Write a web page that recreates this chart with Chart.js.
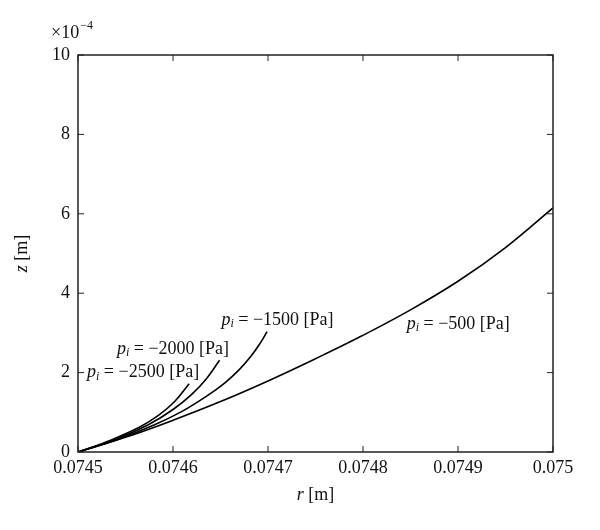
<!DOCTYPE html>
<html>
<head>
<meta charset="utf-8">
<script src="https://cdn.jsdelivr.net/npm/chart.js@4/dist/chart.umd.min.js"></script>
<style>
  html, body { margin: 0; padding: 0; background: #fff; }
  #wrap { width: 600px; height: 530px; }
</style>
</head>
<body>
<div id="wrap"><canvas id="myChart"></canvas></div>
<script>
// r values in metres, z values in units of 1e-4 m
const r500 = [0.0745, 0.07455, 0.0746, 0.07465, 0.0747, 0.07475, 0.0748, 0.07485, 0.0749, 0.07495, 0.075];
const z500 = [0, 0.37, 0.80, 1.27, 1.79, 2.35, 2.94, 3.58, 4.30, 5.15, 6.15];

const r1500 = [0.0745, 0.07454, 0.07458, 0.07461, 0.074635, 0.074655, 0.07467, 0.074682, 0.074692, 0.074699];
const z1500 = [0, 0.30, 0.68, 1.03, 1.40, 1.75, 2.08, 2.41, 2.75, 3.03];

const r2000 = [0.0745, 0.07454, 0.074575, 0.0746, 0.07462, 0.074635, 0.074649];
const z2000 = [0, 0.32, 0.70, 1.07, 1.46, 1.84, 2.31];

const r2500 = [0.0745, 0.074535, 0.074565, 0.074585, 0.074602, 0.074617];
const z2500 = [0, 0.305, 0.63, 0.93, 1.28, 1.72];

const seriesNames = ["−500", "−1500", "−2000", "−2500"];
const xTicks = [0.0745, 0.0746, 0.0747, 0.0748, 0.0749, 0.075];
const yTicks = [0, 2, 4, 6, 8, 10];

function pts(rs, zs) {
  return rs.map((r, i) => ({ x: r, y: zs[i] }));
}

const serif = "'Liberation Serif', 'DejaVu Serif', serif";

// curve labels, placed in data coordinates
const curveLabels = [
  { name: seriesNames[3], x: 0.0745095, y: 2.0 },
  { name: seriesNames[2], x: 0.074541, y: 2.59 },
  { name: seriesNames[1], x: 0.074651, y: 3.32 },
  { name: seriesNames[0], x: 0.074846, y: 3.22 }
];

const decorations = {
  id: "decorations",
  afterDraw(chart) {
    const ctx = chart.ctx;
    const a = chart.chartArea;
    const xs = chart.scales.x, ys = chart.scales.y;
    ctx.save();
    // box
    ctx.strokeStyle = "#222";
    ctx.lineWidth = 1.5;
    ctx.strokeRect(a.left, a.top, a.right - a.left, a.bottom - a.top);
    // inward ticks
    ctx.lineWidth = 1;
    const tl = 6;
    xTicks.forEach(v => {
      const px = xs.getPixelForValue(v);
      ctx.beginPath();
      ctx.moveTo(px, a.bottom); ctx.lineTo(px, a.bottom - tl);
      ctx.moveTo(px, a.top); ctx.lineTo(px, a.top + tl);
      ctx.stroke();
    });
    yTicks.forEach(v => {
      const py = ys.getPixelForValue(v);
      ctx.beginPath();
      ctx.moveTo(a.left, py); ctx.lineTo(a.left + tl, py);
      ctx.moveTo(a.right, py); ctx.lineTo(a.right - tl, py);
      ctx.stroke();
    });

    ctx.fillStyle = "#111";
    ctx.textBaseline = "middle";
    // x10^-4
    ctx.textAlign = "left";
    ctx.font = "18px " + serif;
    ctx.fillText("×10", 51, 33);
    const w10 = ctx.measureText("×10").width;
    ctx.font = "12px " + serif;
    ctx.fillText("−4", 51 + w10 + 1, 26);

    // axis titles
    function mixed(x, y, italicPart, rest) {
      ctx.font = "italic 18px " + serif;
      const w1 = ctx.measureText(italicPart).width;
      ctx.font = "18px " + serif;
      const w2 = ctx.measureText(rest).width;
      const sx = x - (w1 + w2) / 2;
      ctx.font = "italic 18px " + serif;
      ctx.fillText(italicPart, sx, y);
      ctx.font = "18px " + serif;
      ctx.fillText(rest, sx + w1, y);
    }
    mixed((a.left + a.right) / 2, 495, "r", " [m]");
    ctx.save();
    ctx.translate(22, (a.top + a.bottom) / 2);
    ctx.rotate(-Math.PI / 2);
    mixed(0, 0, "z", " [m]");
    ctx.restore();

    // curve labels
    curveLabels.forEach(l => {
      let px = xs.getPixelForValue(l.x);
      const py = ys.getPixelForValue(l.y);
      ctx.font = "italic 18px " + serif;
      ctx.fillText("p", px, py);
      px += ctx.measureText("p").width;
      ctx.font = "italic 12px " + serif;
      ctx.fillText("i", px, py + 4);
      px += ctx.measureText("i").width;
      ctx.font = "18px " + serif;
      ctx.fillText(" = " + l.name + " [Pa]", px, py);
    });
    ctx.restore();
  }
};

const lineStyle = {
  borderColor: "#000",
  borderWidth: 1.6,
  pointRadius: 0,
  fill: false,
  showLine: true,
  tension: 0.4
};

new Chart(document.getElementById("myChart").getContext("2d"), {
  type: "scatter",
  data: {
    datasets: [
      { label: seriesNames[0], data: pts(r500, z500), ...lineStyle },
      { label: seriesNames[1], data: pts(r1500, z1500), ...lineStyle },
      { label: seriesNames[2], data: pts(r2000, z2000), ...lineStyle },
      { label: seriesNames[3], data: pts(r2500, z2500), ...lineStyle }
    ]
  },
  options: {
    responsive: true,
    maintainAspectRatio: false,
    animation: false,
    layout: { padding: { top: 55, right: 47, left: 0, bottom: 0 } },
    plugins: {
      legend: { display: false },
      tooltip: { enabled: false }
    },
    scales: {
      x: {
        type: "linear",
        min: 0.0745,
        max: 0.075,
        afterFit(s) { s.height = 78; },
        afterBuildTicks(s) { s.ticks = xTicks.map(v => ({ value: v })); },
        grid: { display: false, drawTicks: false },
        border: { display: false },
        ticks: {
          padding: 5,
          color: "#111",
          font: { family: serif, size: 18 },
          maxRotation: 0,
          callback: v => Number(v.toFixed(4)).toString()
        }
      },
      y: {
        min: 0,
        max: 10,
        afterFit(s) { s.width = 78; },
        afterBuildTicks(s) { s.ticks = yTicks.map(v => ({ value: v })); },
        grid: { display: false, drawTicks: false },
        border: { display: false },
        ticks: {
          padding: 8,
          color: "#111",
          font: { family: serif, size: 18 }
        }
      }
    }
  },
  plugins: [decorations]
});
</script>
</body>
</html>
